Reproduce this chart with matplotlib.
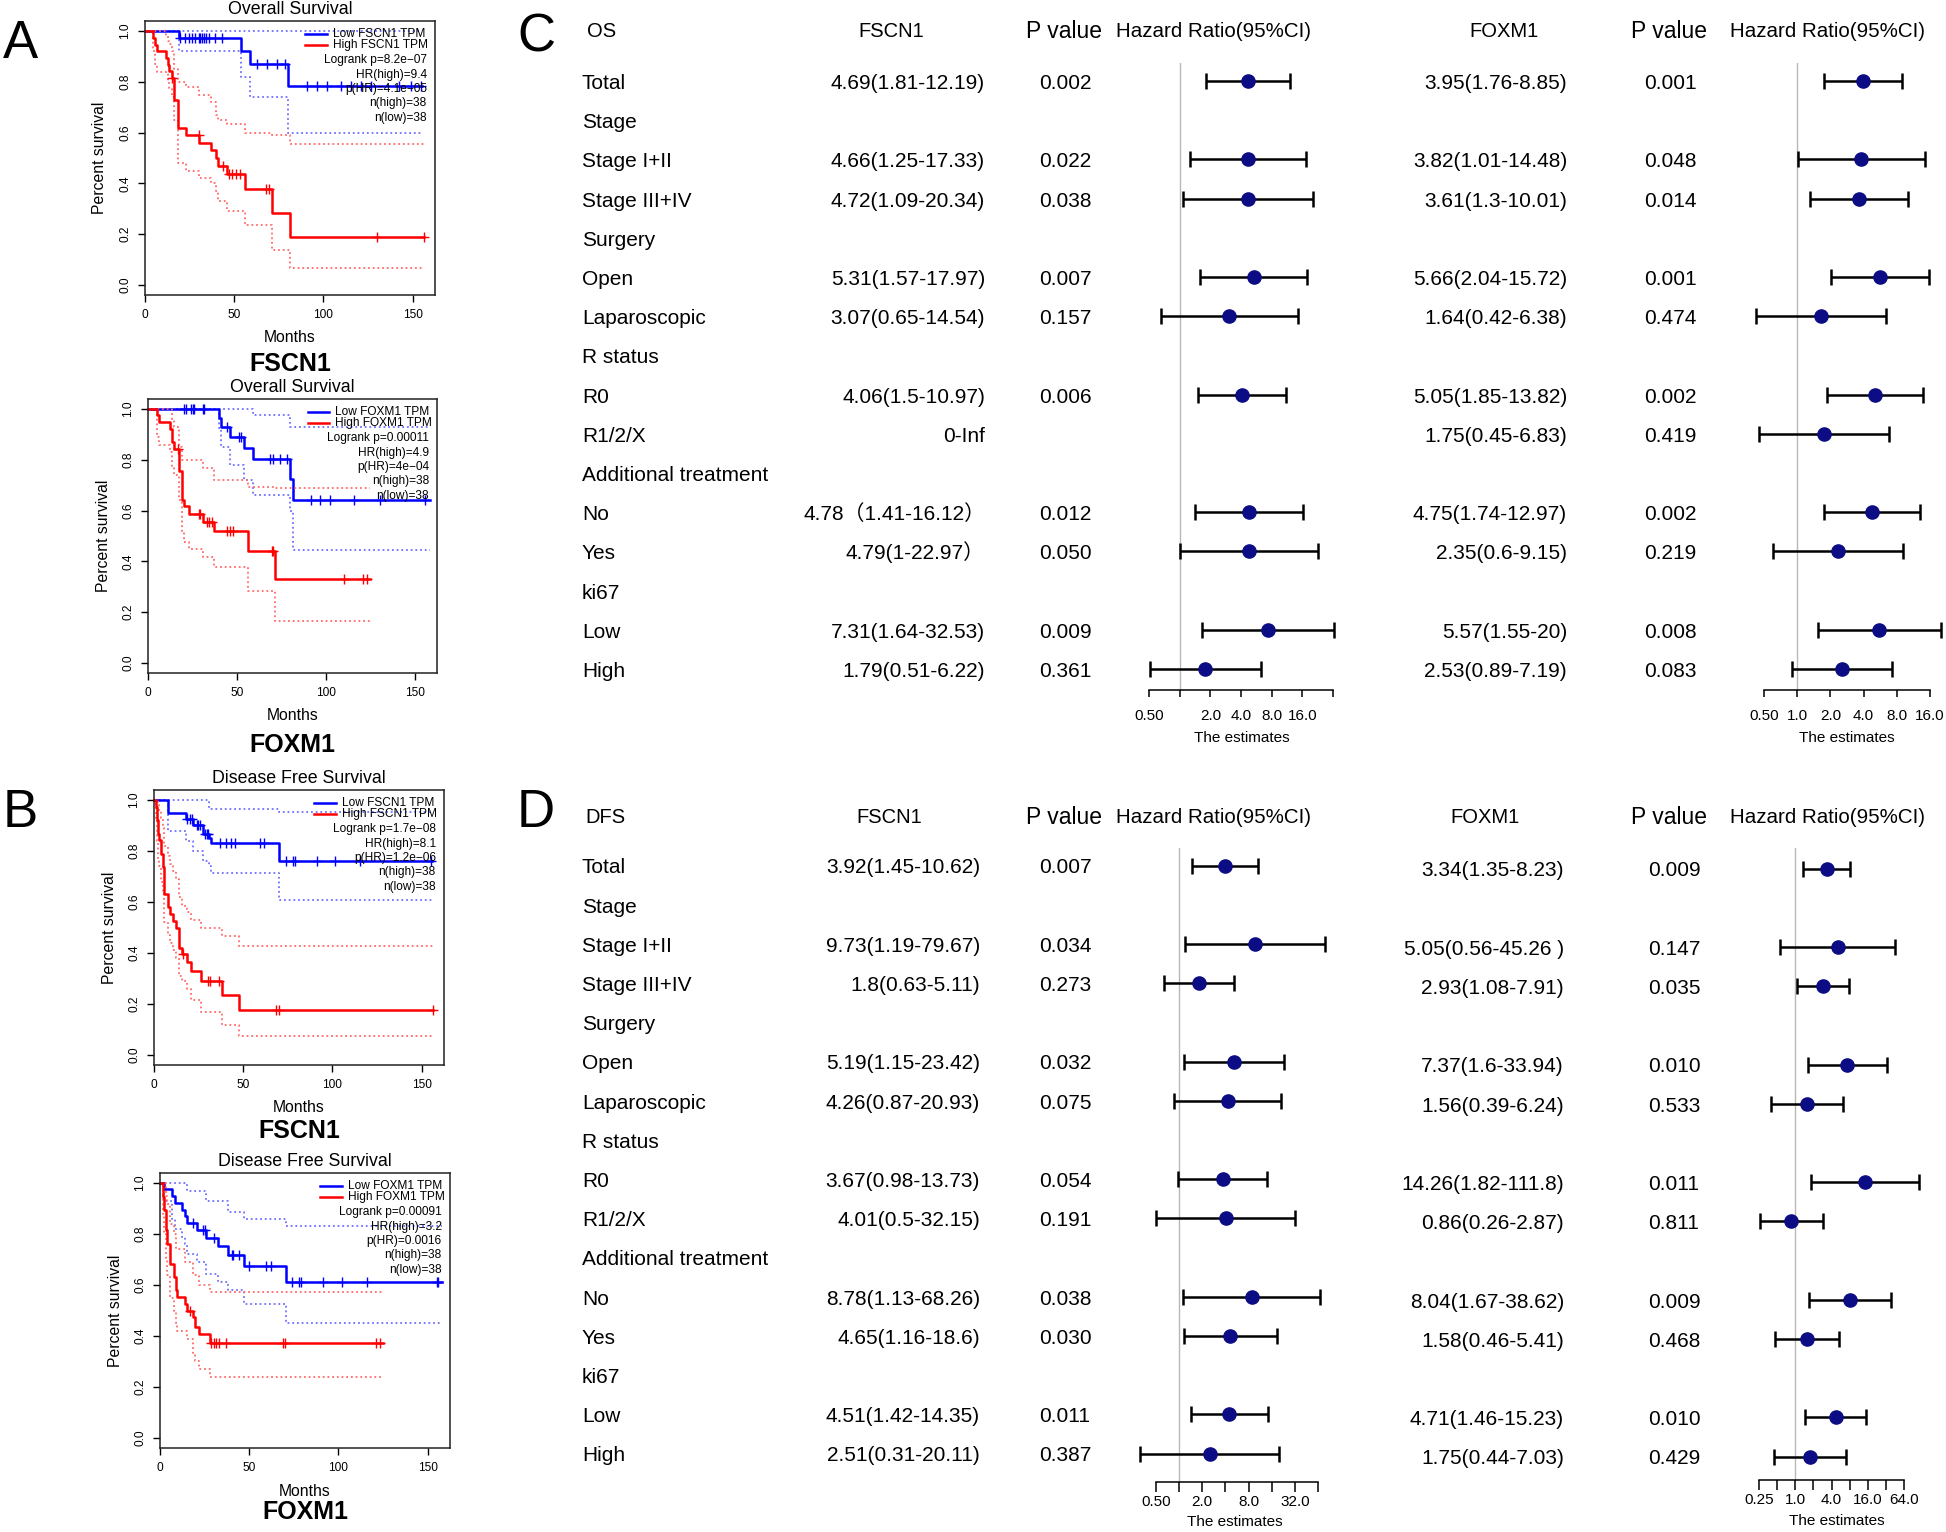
import numpy as np
import matplotlib
matplotlib.use("Agg")
import matplotlib.pyplot as plt
from matplotlib.ticker import NullLocator

W, H = 1946, 1532
FONT = ["Liberation Sans", "Noto Sans CJK SC", "DejaVu Sans"]
plt.rcParams["font.family"] = FONT
MINUS = "\u2212"

# ======================= Kaplan-Meier data =======================
# A (top): Overall survival, FSCN1
A1_low_t = [0, 18.8, 53.8, 59, 80]
A1_low_s = [1, .972, .921, .871, .782]
A1_low_lo = [1, .921, .821, .74, .60]
A1_low_hi = [1, 1, 1, 1, 1]
A1_low_end = 155
A1_low_cens = [19.7, 22.5, 24.4, 26.2, 28.1, 30, 31, 32, 33, 34, 36, 39, 43.3,
               62.8, 68.4, 73.7, 78.7, 91, 96.6, 101.8, 109.7, 115.3, 121,
               126.6, 142.5, 149, 154.7]
A1_high_t = [0, 4.5, 5.5, 6.5, 12, 13, 13.5, 15, 16.5, 18.5, 23, 30.5, 37, 40,
             41, 46, 56, 71, 81]
A1_high_s = [1, .974, .947, .921, .895, .868, .842, .816, .73, .618, .589,
             .558, .53, .50, .468, .438, .376, .283, .188]
A1_high_lo = [1, .92, .87, .84, .84, .80, .77, .74, .65, .48, .45, .42, .40,
              .37, .33, .29, .236, .138, .065]
A1_high_hi = [1, 1, 1, 1, .98, .96, .95, .92, .85, .80, .78, .75, .72, .67,
              .65, .635, .60, .59, .556]
A1_high_end = 156.5
A1_high_cens = [15.3, 30, 43.5, 47, 49, 51, 53, 68, 69.5, 130, 156.5]
A1_stats = ["Logrank p=8.2e" + MINUS + "07", "HR(high)=9.4",
            "p(HR)=4.1e" + MINUS + "05", "n(high)=38", "n(low)=38"]

# A (bottom): Overall survival, FOXM1
A2_low_t = [0, 40.2, 41.1, 46.2, 53.7, 58.9, 79.9, 81.4]
A2_low_s = [1, .967, .929, .891, .845, .803, .724, .642]
A2_low_lo = [1, .925, .85, .78, .72, .66, .60, .444]
A2_low_hi = [1, 1, 1, 1, 1, .978, .928, .928]
A2_low_end = 158.4
A2_low_cens = [20.3, 21.5, 24.3, 25.2, 26, 30.9, 31.6, 44.3, 50.9, 52.2,
               68.6, 70.1, 74.2, 78.4, 91.5, 96.7, 102.3, 116, 130.4, 155.6]
A2_high_t = [0, 5.1, 6, 12.2, 13.5, 14.4, 17.2, 19.1, 20, 22.8, 31.2, 37.2,
             56.3, 71.4]
A2_high_s = [1, .975, .949, .923, .869, .843, .758, .643, .619, .585, .555,
             .518, .442, .332]
A2_high_lo = [1, .89, .86, .83, .77, .74, .64, .52, .476, .45, .416, .378,
              .285, .163]
A2_high_hi = [1, 1, 1, 1, .96, .93, .85, .80, .80, .80, .77, .72, .695, .689]
A2_high_end = 125
A2_high_cens = [16.6, 28.4, 29.4, 33, 34.5, 36, 44.7, 46.2, 48, 69.6, 70.5,
                110, 121, 123]
A2_stats = ["Logrank p=0.00011", "HR(high)=4.9", "p(HR)=4e" + MINUS + "04",
            "n(high)=38", "n(low)=38"]

# B (top): Disease free survival, FSCN1
B1_low_t = [0, 8.1, 17.8, 21.7, 27.3, 31, 32.1, 70.2]
B1_low_s = [1, .951, .925, .901, .868, .85, .832, .76]
B1_low_lo = [1, .88, .84, .80, .76, .74, .713, .608]
B1_low_hi = [1, 1, 1, 1, 1, .967, .967, .954]
B1_low_end = 156
B1_low_cens = [18.4, 19.9, 21.2, 24, 24.9, 25.8, 28.7, 29.6, 30.5, 37.1, 40.4,
               43.1, 45.5, 59.2, 61.8, 74.2, 77.9, 79.2, 91.4, 101.7, 115.7,
               155]
B1_high_t = [0, 0.94, 1.5, 2.1, 3, 3.7, 5.2, 5.8, 7.7, 9, 10.5, 12.4, 14.2,
             15.5, 18.4, 20.8, 26.2, 38, 47.4]
B1_high_s = [1, .974, .921, .868, .842, .79, .737, .632, .579, .553, .526, .5,
             .421, .395, .364, .328, .289, .234, .175]
B1_high_lo = [1, .92, .84, .77, .74, .68, .63, .52, .47, .44, .41, .38, .31,
              .29, .26, .215, .17, .118, .072]
B1_high_hi = [1, 1, 1, .98, .96, .93, .89, .82, .78, .75, .72, .69, .62, .585,
              .56, .53, .50, .466, .427]
B1_high_end = 156.5
B1_high_cens = [16.5, 30.2, 31.1, 36.7, 68.5, 70, 156.5]
B1_stats = ["Logrank p=1.7e" + MINUS + "08", "HR(high)=8.1",
            "p(HR)=1.2e" + MINUS + "06", "n(high)=38", "n(low)=38"]

# B (bottom): Disease free survival, FOXM1
B2_low_t = [0, 2.2, 6.5, 8.4, 12.2, 14, 15, 20.6, 25.8, 32.4, 38.3, 46.8, 70.5]
B2_low_s = [1, .976, .95, .924, .895, .871, .845, .816, .786, .753, .717,
            .674, .612]
B2_low_lo = [1, .93, .86, .82, .79, .76, .72, .69, .645, .61, .58, .527, .45]
B2_low_hi = [1, 1, 1, 1, 1, 1, .97, .97, .93, .93, .885, .86, .83]
B2_low_end = 158
B2_low_cens = [18.7, 24.3, 25.2, 30.3, 40.2, 41.1, 44.5, 50, 59.5, 62, 74.2,
               78, 79, 91.6, 102, 116, 155, 156]
B2_high_t = [0, 1.5, 2.2, 3.2, 4.1, 5.6, 7.9, 9, 9.7, 14, 15.3, 18.7, 19.6,
             21.9, 28]
B2_high_s = [1, .947, .895, .816, .763, .684, .632, .579, .553, .526, .5, .474,
             .434, .408, .374]
B2_high_lo = [1, .87, .80, .70, .64, .55, .50, .45, .42, .42, .39, .33, .30,
              .27, .24]
B2_high_hi = [1, 1, 1, .95, .92, .84, .80, .74, .74, .69, .69, .64, .64, .60,
              .574]
B2_high_end = 125
B2_high_cens = [16.8, 28.6, 30.3, 31.4, 33.3, 36.8, 69, 70, 121, 123]
B2_stats = ["Logrank p=0.00091", "HR(high)=3.2", "p(HR)=0.0016",
            "n(high)=38", "n(low)=38"]

# ======================= Forest / table data =======================
row_labels = ["Total", "Stage", "Stage I+II", "Stage III+IV", "Surgery", "Open",
              "Laparoscopic", "R status", "R0", "R1/2/X",
              "Additional treatment", "No", "Yes", "ki67", "Low", "High"]
sub_rows = [0, 2, 3, 5, 6, 8, 9, 11, 12, 14, 15]
nan = np.nan

C_fscn1_hr = [4.69, 4.66, 4.72, 5.31, 3.07, 4.06, nan, 4.78, 4.79, 7.31, 1.79]
C_fscn1_lo = [1.81, 1.25, 1.09, 1.57, 0.65, 1.5, nan, 1.41, 1, 1.64, 0.51]
C_fscn1_hi = [12.19, 17.33, 20.34, 17.97, 14.54, 10.97, nan, 16.12, 22.97,
              32.53, 6.22]
C_fscn1_txt = ["4.69(1.81-12.19)", "4.66(1.25-17.33)", "4.72(1.09-20.34)",
               "5.31(1.57-17.97)", "3.07(0.65-14.54)", "4.06(1.5-10.97)",
               "0-Inf", "4.78\uff081.41-16.12\uff09", "4.79(1-22.97\uff09",
               "7.31(1.64-32.53)", "1.79(0.51-6.22)"]
C_fscn1_p = ["0.002", "0.022", "0.038", "0.007", "0.157", "0.006", "",
             "0.012", "0.050", "0.009", "0.361"]

C_foxm1_hr = [3.95, 3.82, 3.61, 5.66, 1.64, 5.05, 1.75, 4.75, 2.35, 5.57, 2.53]
C_foxm1_lo = [1.76, 1.01, 1.3, 2.04, 0.42, 1.85, 0.45, 1.74, 0.6, 1.55, 0.89]
C_foxm1_hi = [8.85, 14.48, 10.01, 15.72, 6.38, 13.82, 6.83, 12.97, 9.15, 20,
              7.19]
C_foxm1_txt = ["3.95(1.76-8.85)", "3.82(1.01-14.48)", "3.61(1.3-10.01)",
               "5.66(2.04-15.72)", "1.64(0.42-6.38)", "5.05(1.85-13.82)",
               "1.75(0.45-6.83)", "4.75(1.74-12.97)", "2.35(0.6-9.15)",
               "5.57(1.55-20)", "2.53(0.89-7.19)"]
C_foxm1_p = ["0.001", "0.048", "0.014", "0.001", "0.474", "0.002", "0.419",
             "0.002", "0.219", "0.008", "0.083"]

D_fscn1_hr = [3.92, 9.73, 1.8, 5.19, 4.26, 3.67, 4.01, 8.78, 4.65, 4.51, 2.51]
D_fscn1_lo = [1.45, 1.19, 0.63, 1.15, 0.87, 0.98, 0.5, 1.13, 1.16, 1.42, 0.31]
D_fscn1_hi = [10.62, 79.67, 5.11, 23.42, 20.93, 13.73, 32.15, 68.26, 18.6,
              14.35, 20.11]
D_fscn1_txt = ["3.92(1.45-10.62)", "9.73(1.19-79.67)", "1.8(0.63-5.11)",
               "5.19(1.15-23.42)", "4.26(0.87-20.93)", "3.67(0.98-13.73)",
               "4.01(0.5-32.15)", "8.78(1.13-68.26)", "4.65(1.16-18.6)",
               "4.51(1.42-14.35)", "2.51(0.31-20.11)"]
D_fscn1_p = ["0.007", "0.034", "0.273", "0.032", "0.075", "0.054", "0.191",
             "0.038", "0.030", "0.011", "0.387"]

D_foxm1_hr = [3.34, 5.05, 2.93, 7.37, 1.56, 14.26, 0.86, 8.04, 1.58, 4.71, 1.75]
D_foxm1_lo = [1.35, 0.56, 1.08, 1.6, 0.39, 1.82, 0.26, 1.67, 0.46, 1.46, 0.44]
D_foxm1_hi = [8.23, 45.26, 7.91, 33.94, 6.24, 111.8, 2.87, 38.62, 5.41, 15.23,
              7.03]
D_foxm1_txt = ["3.34(1.35-8.23)", "5.05(0.56-45.26 )", "2.93(1.08-7.91)",
               "7.37(1.6-33.94)", "1.56(0.39-6.24)", "14.26(1.82-111.8)",
               "0.86(0.26-2.87)", "8.04(1.67-38.62)", "1.58(0.46-5.41)",
               "4.71(1.46-15.23)", "1.75(0.44-7.03)"]
D_foxm1_p = ["0.009", "0.147", "0.035", "0.010", "0.533", "0.011", "0.811",
             "0.009", "0.468", "0.010", "0.429"]

C_ticks_1 = [0.5, 1, 2, 4, 8, 16, 32]
C_tlab_1 = ["0.50", "", "2.0", "4.0", "8.0", "16.0", ""]
C_ticks_2 = [0.5, 1, 2, 4, 8, 16]
C_tlab_2 = ["0.50", "1.0", "2.0", "4.0", "8.0", "16.0"]
D_ticks_1 = [0.5, 1, 2, 4, 8, 16, 32, 64]
D_tlab_1 = ["0.50", "", "2.0", "", "8.0", "", "32.0", ""]
D_ticks_2 = [0.25, 0.5, 1, 2, 4, 8, 16, 32, 64]
D_tlab_2 = ["0.25", "", "1.0", "", "4.0", "", "16.0", "", "64.0"]

# ======================= drawing =======================
fig = plt.figure(figsize=(W / 100, H / 100), dpi=100)
fig.patch.set_facecolor("white")


def px_axes(l, t, r, b):
    return fig.add_axes([l / W, 1 - b / H, (r - l) / W, (b - t) / H])


def ftext(x, y, s, **kw):
    kw.setdefault("ha", "center")
    kw.setdefault("va", "center")
    return fig.text(x / W, 1 - y / H, s, **kw)


def ctext(x, y, s, size, **kw):
    """Text whose capital letters are vertically centred at pixel y."""
    base = y + 0.358 * size / 0.72
    kw.setdefault("ha", "center")
    return fig.text(x / W, 1 - base / H, s, va="baseline", fontsize=size, **kw)


def draw_curve(ax, t, s, lo, hi, end, cens, col, cicol):
    tx = list(t) + [end]
    for arr in (lo, hi):
        ax.step(tx, list(arr) + [arr[-1]], where="post", color=cicol,
                ls=(0, (1, 1.6)), lw=1.3, clip_on=False)
    ax.step(tx, list(s) + [s[-1]], where="post", color=col, lw=1.8,
            clip_on=False)
    idx = np.searchsorted(np.asarray(t), np.asarray(cens), side="right") - 1
    ax.plot(cens, np.asarray(s)[idx], ls="none", marker="+", ms=6.5, mew=1.0,
            color=col, clip_on=False)


def draw_km(box, title, gene, low, high, stats, title_y, months_y, gene_y):
    l, t, r, b = box
    ax = px_axes(l, t, r, b)
    draw_curve(ax, *low, "#0000ff", "#7070ff")
    draw_curve(ax, *high, "#ff0000", "#ff6a6a")
    ax.set_xlim(0, 162.5)
    ax.set_ylim(-0.04, 1.04)
    ax.set_xticks([0, 50, 100, 150])
    ax.set_yticks([0, .2, .4, .6, .8, 1.0])
    ax.set_yticklabels(["0.0", "0.2", "0.4", "0.6", "0.8", "1.0"],
                       rotation=90, va="center")
    ax.tick_params(direction="out", length=5, width=1, labelsize=8.6, pad=5)
    for sp in ax.spines.values():
        sp.set_linewidth(1.1)
        sp.set_color("#222222")
    # legend (no box) and statistics
    ax.plot([0.553, 0.628], [0.954, 0.954], transform=ax.transAxes,
            color="#0000ff", lw=1.8)
    ax.plot([0.553, 0.628], [0.911, 0.911], transform=ax.transAxes,
            color="#ff0000", lw=1.8)
    ax.text(0.647, 0.954, f"Low {gene} TPM", transform=ax.transAxes,
            ha="left", va="center", fontsize=8.6)
    ax.text(0.647, 0.911, f"High {gene} TPM", transform=ax.transAxes,
            ha="left", va="center", fontsize=8.6)
    for k, s in enumerate(stats):
        ax.text(0.972, 0.857 - 0.0523 * k, s, transform=ax.transAxes,
                ha="right", va="center", fontsize=8.6)
    cx = (l + r) / 2
    ftext(cx, title_y, title, fontsize=12.8)
    ftext(cx, months_y, "Months", fontsize=11.3)
    ftext(l - 45, (t + b) / 2, "Percent survival", fontsize=11.3, rotation=90)
    ftext(cx, gene_y, gene, fontsize=18, fontweight="bold")


draw_km((145, 21, 435, 295), "Overall Survival", "FSCN1",
        (A1_low_t, A1_low_s, A1_low_lo, A1_low_hi, A1_low_end, A1_low_cens),
        (A1_high_t, A1_high_s, A1_high_lo, A1_high_hi, A1_high_end,
         A1_high_cens), A1_stats, 9, 337, 364)
draw_km((148, 399, 437, 673), "Overall Survival", "FOXM1",
        (A2_low_t, A2_low_s, A2_low_lo, A2_low_hi, A2_low_end, A2_low_cens),
        (A2_high_t, A2_high_s, A2_high_lo, A2_high_hi, A2_high_end,
         A2_high_cens), A2_stats, 387, 715, 745)
draw_km((154, 790, 444, 1065), "Disease Free Survival", "FSCN1",
        (B1_low_t, B1_low_s, B1_low_lo, B1_low_hi, B1_low_end, B1_low_cens),
        (B1_high_t, B1_high_s, B1_high_lo, B1_high_hi, B1_high_end,
         B1_high_cens), B1_stats, 779, 1107, 1131)
draw_km((160, 1173, 450, 1448), "Disease Free Survival", "FOXM1",
        (B2_low_t, B2_low_s, B2_low_lo, B2_low_hi, B2_low_end, B2_low_cens),
        (B2_high_t, B2_high_s, B2_high_lo, B2_high_hi, B2_high_end,
         B2_high_cens), B2_stats, 1162, 1491, 1512)

ROW = 39.2


def forest(xl, xr, top, axis_y, y0, ticks, tlabels, hr, lo, hi, est_xy,
           tick_len, tick_pad):
    ax = px_axes(xl, top, xr, axis_y)
    ax.patch.set_alpha(0)
    ax.set_xscale("log", base=2)
    ax.set_xlim(ticks[0], ticks[-1])
    ax.set_ylim((axis_y - y0) / ROW, (top - y0) / ROW)
    ax.axvline(1, color="#b8b8b8", lw=1.0, zorder=0)
    hr = np.asarray(hr, float)
    lo = np.asarray(lo, float)
    hi = np.asarray(hi, float)
    ok = ~np.isnan(hr)
    rows = np.asarray(sub_rows, float)[ok]
    ax.hlines(rows, lo[ok], hi[ok], color="black", lw=1.8, clip_on=False)
    ax.plot(lo[ok], rows, ls="none", marker="|", ms=11, mew=1.8,
            color="black", clip_on=False)
    ax.plot(hi[ok], rows, ls="none", marker="|", ms=11, mew=1.8,
            color="black", clip_on=False)
    ax.plot(hr[ok], rows, ls="none", marker="o", ms=9.5, color="#0c0c84",
            clip_on=False, zorder=4)
    for s in ("left", "top", "right"):
        ax.spines[s].set_visible(False)
    ax.spines["bottom"].set_linewidth(1.1)
    ax.set_yticks([])
    ax.set_xticks(ticks)
    ax.set_xticklabels(tlabels)
    ax.xaxis.set_minor_locator(NullLocator())
    ax.tick_params(axis="x", direction="out", length=tick_len, width=1.1,
                   labelsize=11, pad=tick_pad)
    ctext(est_xy[0], est_xy[1], "The estimates", 11)


def table(head_y, y0, first, pcol1_x, val1_right, val1, p1,
          gene2_x, pcol2_x, val2_right, val2, p2, y0b, head_first_x, g1_x):
    ctext(head_first_x, head_y, first, 14.5, ha="left")
    ctext(g1_x, head_y, "FSCN1", 14.5)
    ctext(1064, head_y, "P value", 16.5)
    ctext(1214, head_y, "Hazard Ratio(95%CI)", 14.8)
    ctext(gene2_x, head_y, "FOXM1", 14.5)
    ctext(1669, head_y, "P value", 16.5)
    ctext(1827, head_y, "Hazard Ratio(95%CI)", 14.8)
    for i, lab in enumerate(row_labels):
        ctext(582, y0 + ROW * i, lab, 15, ha="left")
    for k, r in enumerate(sub_rows):
        ctext(val1_right, y0 + ROW * r, val1[k], 15, ha="right")
        ctext(pcol1_x, y0 + ROW * r, p1[k], 15)
        ctext(val2_right, y0b + ROW * r, val2[k], 15, ha="right")
        ctext(pcol2_x, y0b + ROW * r, p2[k], 15)


# Panel C (OS)
table(30, 81.5, "OS", 1065, 985, C_fscn1_txt, C_fscn1_p,
      1504, 1670, 1567, C_foxm1_txt, C_foxm1_p, 81.5, 587, 891)
forest(1149, 1333, 63, 690, 81, C_ticks_1, C_tlab_1,
       C_fscn1_hr, C_fscn1_lo, C_fscn1_hi, (1242, 737), 5, 9)
forest(1764, 1930, 63, 690, 81, C_ticks_2, C_tlab_2,
       C_foxm1_hr, C_foxm1_lo, C_foxm1_hi, (1847, 737), 5, 9)

# Panel D (DFS)
table(816, 866, "DFS", 1065, 980, D_fscn1_txt, D_fscn1_p,
      1485, 1674, 1564, D_foxm1_txt, D_foxm1_p, 869, 585, 889)
forest(1156, 1318, 848, 1482, 865.5, D_ticks_1, D_tlab_1,
       D_fscn1_hr, D_fscn1_lo, D_fscn1_hi, (1235, 1521), 7, 2)
forest(1759, 1904, 848, 1480, 868.5, D_ticks_2, D_tlab_2,
       D_foxm1_hr, D_foxm1_lo, D_foxm1_hi, (1837, 1520), 7, 2)

# Panel letters
ctext(20, 39, "A", 38)
ctext(20, 808, "B", 38)
ctext(536, 33, "C", 38)
ctext(536, 808, "D", 38)

fig.savefig("out.png", dpi=100, facecolor="white")
